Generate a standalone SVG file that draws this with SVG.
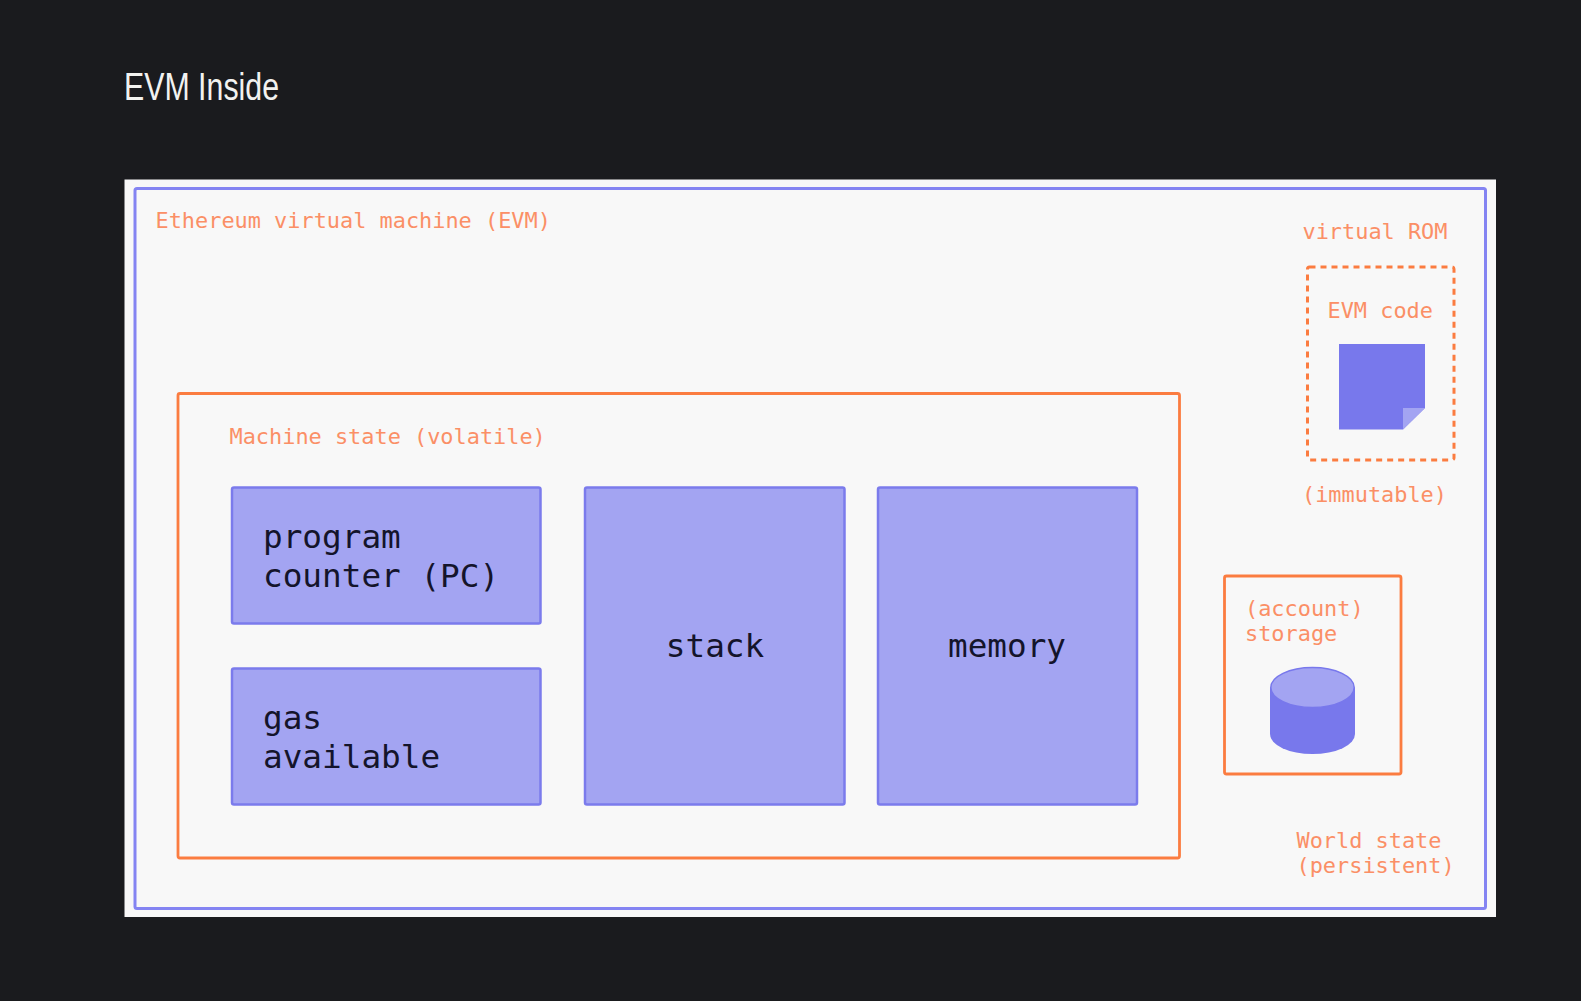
<svg xmlns="http://www.w3.org/2000/svg" width="1581" height="1001" viewBox="0 0 1581 1001">
<style>
.m{font-family:"DejaVu Sans Mono","Liberation Mono",monospace}
.o{font-size:21.9px;fill:#fb8f66}
.d{font-size:32.7px;fill:#14142b}
.box{fill:#a3a4f2;stroke:#7b7bec;stroke-width:2.500;rx:2}
.or{fill:none;stroke:#fb7c40;stroke-width:2.800;rx:2}
</style>
<rect width="1581" height="1001" fill="#1a1b1e"/>
<text id="title" x="124" y="100" font-family="'Liberation Sans Narrow','Liberation Sans',sans-serif" font-size="39" fill="#f2f2f0" textLength="155" lengthAdjust="spacingAndGlyphs">EVM Inside</text>
<rect x="124.500" y="179.500" width="1371.500" height="737.500" fill="#f8f8f8"/>
<g id="evm"><rect x="135" y="188.500" width="1350.500" height="720" fill="none" stroke="#8484f2" stroke-width="3" rx="2"/>
<text class="m o" x="155.500" y="228">Ethereum virtual machine (EVM)</text></g>
<g id="machine-state"><rect class="or" x="178" y="393.500" width="1001.500" height="464.500"/>
<text class="m o" x="229.500" y="444">Machine state (volatile)</text></g>
<g id="pc"><rect class="box" x="232" y="487.500" width="308.500" height="136"/>
<text class="m d" x="263" y="548">program</text><text class="m d" x="263" y="587">counter (PC)</text></g>
<g id="gas"><rect class="box" x="232" y="668.500" width="308.500" height="136"/>
<text class="m d" x="263" y="729">gas</text><text class="m d" x="263" y="768">available</text></g>
<g id="stack"><rect class="box" x="585" y="487.500" width="259.500" height="317"/>
<text class="m d" x="715" y="657" text-anchor="middle">stack</text></g>
<g id="memory"><rect class="box" x="878" y="487.500" width="259" height="317"/>
<text class="m d" x="1007" y="657" text-anchor="middle">memory</text></g>
<g id="rom">
<text class="m o" x="1302.500" y="239">virtual ROM</text>
<rect x="1307.500" y="267" width="146.500" height="193" fill="none" stroke="#fb7c40" stroke-width="3" stroke-dasharray="6 5" rx="2"/>
<text class="m o" x="1327.500" y="318">EVM code</text>
<path d="M1339 344H1425V408L1403 429.500H1339Z" fill="#7878ec"/>
<path d="M1403 408H1425L1403 429.500Z" fill="#a3a4f2"/>
<text class="m o" x="1302" y="502">(immutable)</text></g>
<g id="storage"><rect class="or" x="1224.500" y="576" width="176.500" height="198"/>
<text class="m o" x="1245" y="615.500">(account)</text><text class="m o" x="1245" y="641">storage</text>
<path d="M1270 687.500V734A42.500 20 0 0 0 1355 734V687.500Z" fill="#7878ec"/>
<ellipse cx="1312.500" cy="687.500" rx="41.700" ry="20" fill="#a3a4f2" stroke="#7878ec" stroke-width="1.500"/></g>
<g id="world"><text class="m o" x="1296.500" y="847.500">World state</text><text class="m o" x="1296.500" y="872.500">(persistent)</text></g>
<g id="connectors"/>
</svg>
